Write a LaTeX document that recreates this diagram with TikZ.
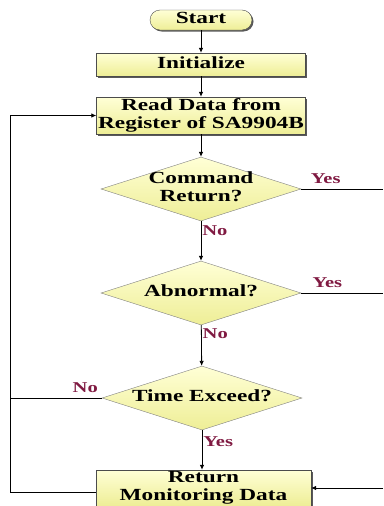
\documentclass[tikz,border=0pt]{standalone}
\usepackage{fontspec}
\setmainfont{Liberation Serif}
\usepackage{graphicx}
\usepackage{xcolor}
\usepackage{tikz}
\usetikzlibrary{arrows.meta,shapes.geometric,shadows}

\definecolor{boxtop}{RGB}{255,255,214}
\definecolor{boxbot}{RGB}{238,238,150}
\definecolor{lblred}{RGB}{128,26,66}

\newcommand{\wide}[1]{\scalebox{1.37}[1]{\begin{tabular}{@{}c@{}}#1\end{tabular}}}

\tikzset{
  box/.style={draw=black!70, top color=boxtop, bottom color=boxbot,
    drop shadow={shadow xshift=1.5pt, shadow yshift=-1.5pt, opacity=1, fill=black!65},
    inner sep=0pt, font=\fontsize{17}{18}\selectfont\bfseries},
  decision/.style={diamond, draw=black!50, top color=boxtop, bottom color=boxbot,
    shape aspect=3.1, inner sep=0pt, minimum width=200pt, minimum height=64pt,
    font=\fontsize{17}{18}\selectfont\bfseries},
  lbl/.style={text=lblred, inner sep=1pt, font=\fontsize{15}{15}\selectfont\bfseries},
  arr/.style={-{Latex[length=5pt,width=4.5pt]}, thick},
  ln/.style={thick}
}

\begin{document}
\begin{tikzpicture}[x=1pt,y=-1pt]

\useasboundingbox (0,0) rectangle (383,506);

% --- BLOCCHI ---
\node[box, rounded corners=10pt, minimum width=102pt, minimum height=20pt] (start) at (201,20) {\wide{Start}};
\node[box, minimum width=209pt, minimum height=23pt] (init) at (201,64.5) {\wide{Initialize}};
\node[box, minimum width=209pt, minimum height=37pt] (read) at (201,115.5) {\wide{Read Data from\\Register of SA9904B}};

\node[decision, inner ysep=-4pt] (cmd) at (201,189) {\wide{Command\\Return?}};
\node[decision] (abn) at (201,293) {\wide{Abnormal?}};
\node[decision] (time) at (202,398) {\wide{Time Exceed?}};

\node[box, minimum width=215pt, minimum height=34pt] (ret) at (203.5,488) {\wide{Return\\Monitoring Data}};

% --- PUNTI AI BORDI ---
\coordinate (cmdout) at (383,189);
\coordinate (abnout) at (383,293);
\coordinate (retin) at (383,488);
\coordinate (loop) at (10,115.5);

% --- FRECCE ---
\foreach \a/\b in {start/init, init/read, read/cmd} {
    \draw[arr] (\a) -- (\b);
}
\draw[arr] (cmd) -- (abn) node[lbl, pos=0.05, anchor=north west] {\wide{No}};
\draw[arr] (abn) -- (time) node[lbl, pos=0.03, anchor=north west] {\wide{No}};
\draw[arr] (time.south) -- (time.south |- ret.north) node[lbl, pos=0.1, anchor=north west] {\wide{Yes}};

\draw[ln] (cmd.east) -- (cmdout) node[lbl, pos=0.3, anchor=south] {\wide{Yes}};
\draw[ln] (abn.east) -- (abnout) node[lbl, pos=0.32, anchor=south] {\wide{Yes}};
\draw[arr] (retin) -- (ret.east);

% --- RITORNO A SINISTRA ---
\draw[ln] (time.west) -- (time.west -| loop) node[lbl, pos=0.18, anchor=south] {\wide{No}};
\draw[arr] ([yshift=-4pt]ret.west) -| (loop) -- (read.west);

\end{tikzpicture}
\end{document}
